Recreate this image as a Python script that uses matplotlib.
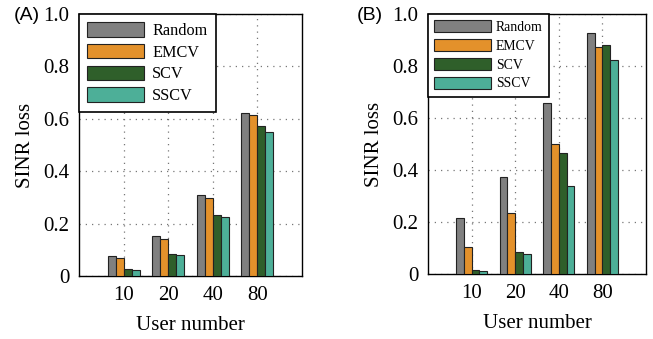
import numpy as np
import matplotlib.pyplot as plt

users = ["10", "20", "40", "80"]
methods = ["Random", "EMCV", "SCV", "SSCV"]
colors = ["#808080", "#E3912B", "#2F5F2A", "#4DAF98"]

# SINR loss, panel (A)
loss_a = {
    "Random": [0.076, 0.152, 0.308, 0.622],
    "EMCV":   [0.067, 0.143, 0.299, 0.614],
    "SCV":    [0.028, 0.084, 0.232, 0.572],
    "SSCV":   [0.024, 0.080, 0.227, 0.550],
}
# SINR loss, panel (B)
loss_b = {
    "Random": [0.214, 0.372, 0.658, 0.928],
    "EMCV":   [0.104, 0.236, 0.501, 0.873],
    "SCV":    [0.017, 0.086, 0.466, 0.882],
    "SSCV":   [0.013, 0.078, 0.339, 0.825],
}

plt.rcParams['font.family'] = ['Liberation Serif', 'DejaVu Serif']


def draw_panel(ax, data, tag, tag_x, leg_kw):
    x = np.arange(1, len(users) + 1)
    w = 0.18
    for i, m in enumerate(methods):
        ax.bar(x + (i - 1.5) * w, data[m], w, color=colors[i],
               edgecolor="#222222", linewidth=0.8, label=m, zorder=3)
    ax.set_xlim(0, 5)
    ax.set_ylim(0, 1.0)
    ax.set_xticks(x)
    ax.set_xticklabels(users)
    ax.set_yticks([0, 0.2, 0.4, 0.6, 0.8, 1.0])
    ax.set_yticklabels(["0", "0.2", "0.4", "0.6", "0.8", "1.0"])
    ax.tick_params(length=0, labelsize=15, pad=7)
    ax.grid(True, linestyle=(0, (1, 4)), color="#777777", linewidth=0.9, zorder=0)
    ax.set_axisbelow(True)
    for s in ax.spines.values():
        s.set_linewidth(1.0)
    ax.set_xlabel("User number", fontsize=15, labelpad=8)
    ax.set_ylabel("SINR loss", fontsize=15, labelpad=6)
    leg = ax.legend(loc="upper left", frameon=True, fancybox=False,
                    borderaxespad=0, **leg_kw)
    leg.get_frame().set_edgecolor("black")
    leg.get_frame().set_linewidth(1.2)
    leg.get_frame().set_alpha(1)
    ax.figure.text(tag_x, 0.955, tag, fontsize=14, family="Liberation Sans",
                   ha="left", va="center")


fig = plt.figure(figsize=(6.53, 3.39), dpi=100)
ax1 = fig.add_axes([79 / 653, 63 / 339, 223 / 653, 262 / 339])
ax2 = fig.add_axes([428 / 653, 65 / 339, 218 / 653, 260 / 339])
draw_panel(ax1, loss_a, "(A)", 14 / 653,
           dict(fontsize=11.7, handlelength=3.5, handleheight=1.0,
                labelspacing=0.3, borderpad=0.5, handletextpad=0.5))
draw_panel(ax2, loss_b, "(B)", 357 / 653,
           dict(fontsize=9.9, handlelength=4.1, handleheight=1.0,
                labelspacing=0.36, borderpad=0.45, handletextpad=0.4))
fig.savefig("out.png", dpi=100)
